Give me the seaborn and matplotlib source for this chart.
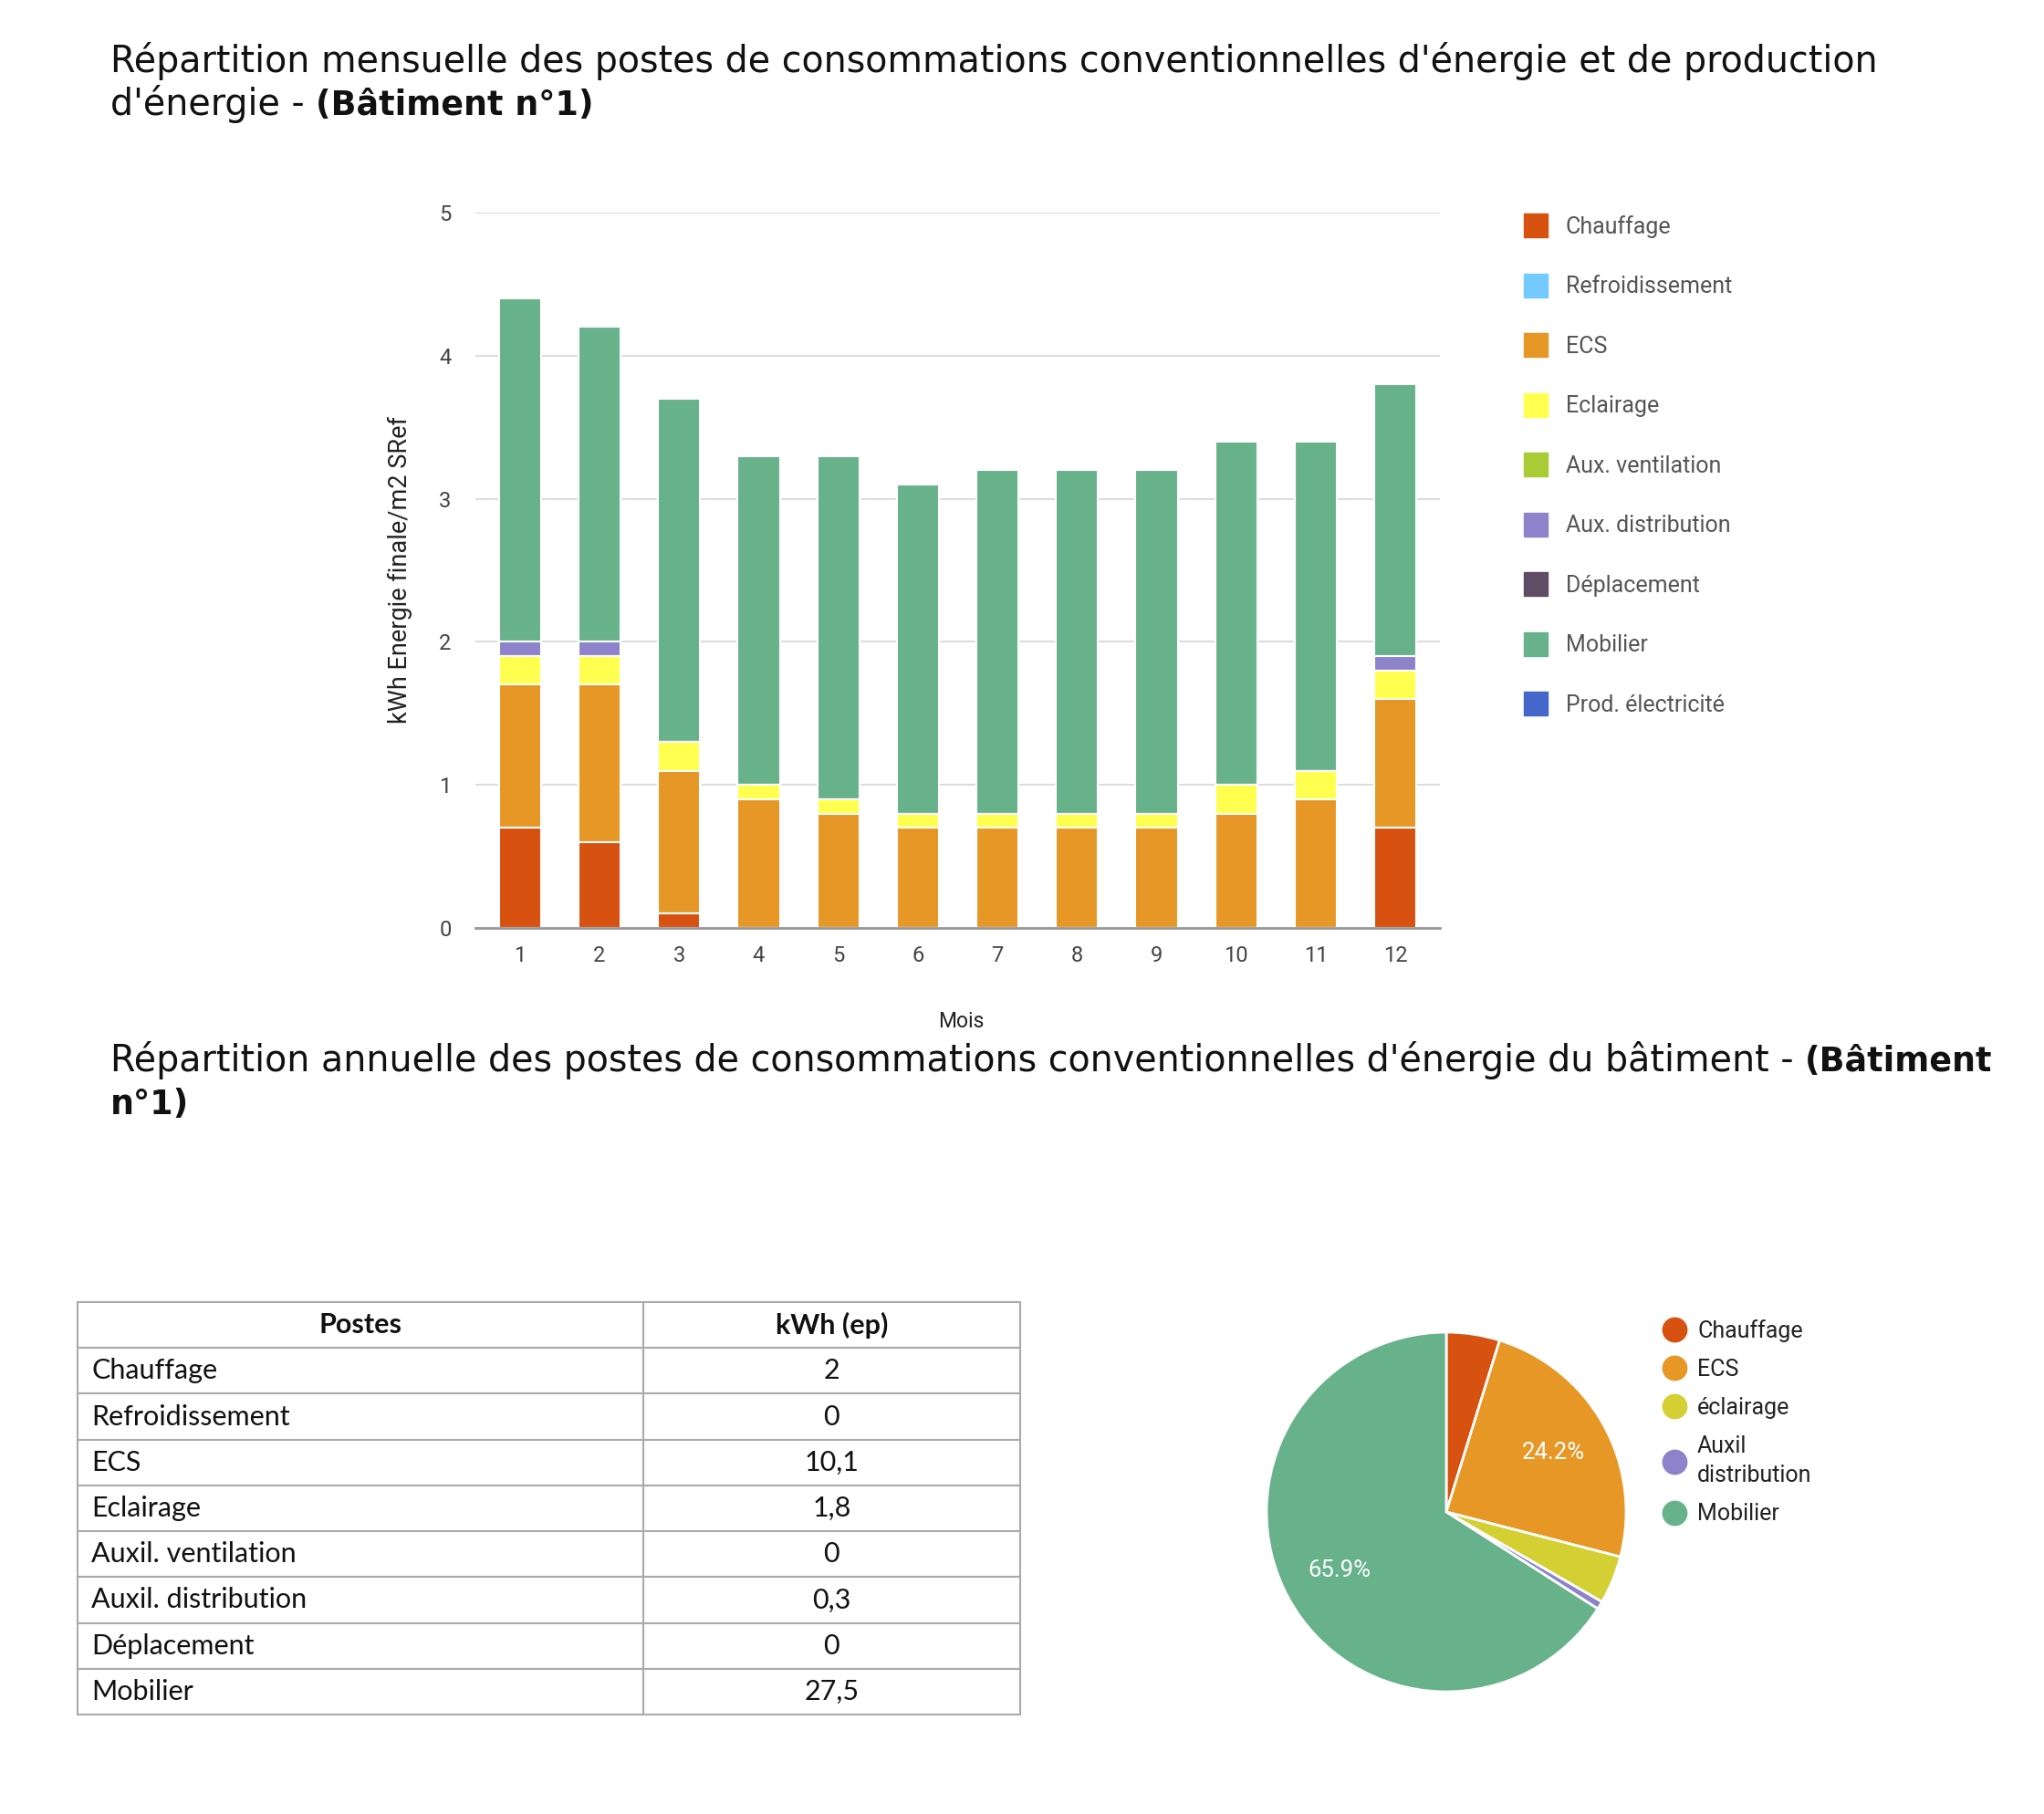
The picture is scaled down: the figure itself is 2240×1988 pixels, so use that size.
import numpy as np
import pandas as pd
import seaborn as sns
import matplotlib.pyplot as plt
from matplotlib.lines import Line2D

# -----------------------------
# Data
# -----------------------------
months = ['1', '2', '3', '4', '5', '6', '7', '8', '9', '10', '11', '12']
series_names = ['Chauffage', 'Refroidissement', 'ECS', 'Eclairage', 'Aux. ventilation',
                'Aux. distribution', 'Déplacement', 'Mobilier', 'Prod. électricité']
series_colors = ['#D75110', '#74CAFE', '#E69726', '#FFFF4F', '#A9CB35',
                 '#8E83CB', '#604D65', '#67B28B', '#4667CA']

chauffage = [0.7, 0.6, 0.1, 0, 0, 0, 0, 0, 0, 0, 0, 0.7]
refroidissement = [0] * 12
ecs = [1.0, 1.1, 1.0, 0.9, 0.8, 0.7, 0.7, 0.7, 0.7, 0.8, 0.9, 0.9]
eclairage = [0.2, 0.2, 0.2, 0.1, 0.1, 0.1, 0.1, 0.1, 0.1, 0.2, 0.2, 0.2]
aux_ventilation = [0] * 12
aux_distribution = [0.1, 0.1, 0, 0, 0, 0, 0, 0, 0, 0, 0, 0.1]
deplacement = [0] * 12
mobilier = [2.4, 2.2, 2.4, 2.3, 2.4, 2.3, 2.4, 2.4, 2.4, 2.4, 2.3, 1.9]
prod_elec = [0] * 12

table_postes = ['Chauffage', 'Refroidissement', 'ECS', 'Eclairage', 'Auxil. ventilation',
                'Auxil. distribution', 'Déplacement', 'Mobilier']
table_kwh = [2, 0, 10.1, 1.8, 0, 0.3, 0, 27.5]

pie_labels = ['Chauffage', 'ECS', 'éclairage', 'Auxil\ndistribution', 'Mobilier']
pie_values = [2, 10.1, 1.8, 0.3, 27.5]
pie_colors = ['#D75110', '#E69726', '#D4CF33', '#8E83CB', '#67B28B']

df = pd.DataFrame({
    'Mois': months,
    'Chauffage': chauffage,
    'Refroidissement': refroidissement,
    'ECS': ecs,
    'Eclairage': eclairage,
    'Aux. ventilation': aux_ventilation,
    'Aux. distribution': aux_distribution,
    'Déplacement': deplacement,
    'Mobilier': mobilier,
    'Prod. électricité': prod_elec,
})

sns.set_theme(style='white')
plt.rcParams['font.family'] = ['Roboto', 'DejaVu Sans']

W, H = 2240, 1988
fig = plt.figure(figsize=(W / 100, H / 100), dpi=100)
fig.patch.set_facecolor('white')


def fx(px):
    return px / W


def fy(py):
    return 1 - py / H


# -----------------------------
# Titles (regular + bold parts)
# -----------------------------
renderer = fig.canvas.get_renderer()
title_font = ['DejaVu Sans']
title1 = 'Répartition mensuelle des postes de consommations conventionnelles d\'énergie et de production'

# fit title size to the width of the first line (~1940 px)
probe = fig.text(0, 0, title1, fontsize=26, family=title_font)
tsize = 26 * 1940 / probe.get_window_extent(renderer).width
probe.remove()


def mixed_line(x_px, y_px, parts, size):
    x = fx(x_px)
    for txt, weight in parts:
        s = size * 0.92 if weight == 'bold' else size
        t = fig.text(x, fy(y_px), txt, fontsize=s, fontweight=weight,
                     family=title_font, color='#111111', va='baseline')
        bb = t.get_window_extent(renderer)
        x = bb.x1 / fig.bbox.width


mixed_line(121, 79, [(title1, 'normal')], tsize)
mixed_line(121, 126, [('d\'énergie - ', 'normal'), ('(Bâtiment n°1)', 'bold')], tsize)
mixed_line(121, 1174, [('Répartition annuelle des postes de consommations conventionnelles d\'énergie du bâtiment - ', 'normal'),
                       ('(Bâtiment', 'bold')], tsize)
mixed_line(121, 1221, [('n°1)', 'bold')], tsize)

# -----------------------------
# Stacked bar chart (cumulative bars drawn top-down)
# -----------------------------
ax = fig.add_axes([fx(521), fy(1017), fx(1578 - 521), (1017 - 233) / H])
cum = df[series_names].cumsum(axis=1)
for name, col in zip(reversed(series_names), reversed(series_colors)):
    sns.barplot(x=df['Mois'], y=cum[name], color=col, saturation=1, width=0.53,
                edgecolor='white', linewidth=1.5, ax=ax, order=months)

ax.set_ylim(0, 5)
ax.set_xlim(-0.56, 11.56)
ax.set_yticks(range(6))
ax.yaxis.grid(True, color='#dddddd', linewidth=1.5)
ax.set_axisbelow(True)
for s in ['left', 'top', 'right']:
    ax.spines[s].set_visible(False)
ax.spines['bottom'].set_color('#999999')
ax.spines['bottom'].set_linewidth(2)
ax.tick_params(axis='both', length=0, labelsize=17, labelcolor='#444444')
ax.tick_params(axis='y', pad=19)
ax.tick_params(axis='x', pad=14)
ax.set_xlabel('')
ax.set_ylabel('kWh Energie finale/m2 SRef', fontsize=19.5, color='#222222', labelpad=21)
fig.text(fx(1053), fy(1119), 'Mois', fontsize=16.5, color='#222222', ha='center', va='center')

handles = [Line2D([0], [0], marker='s', linestyle='', markersize=19,
                  markerfacecolor=c, markeredgecolor=c, label=n)
           for n, c in zip(series_names, series_colors)]
leg = fig.legend(handles=handles, loc='upper left', bbox_to_anchor=(fx(1648), fy(226)),
                 frameon=False, fontsize=18, labelspacing=1.66, handletextpad=0.3,
                 borderaxespad=0)
for t in leg.get_texts():
    t.set_color('#555555')

# -----------------------------
# Table
# -----------------------------
tax = fig.add_axes([fx(85), fy(1879), fx(1118 - 85), (1879 - 1427) / H])
tax.axis('off')
cell_text = [[p, str(v).replace('.', ',')] for p, v in zip(table_postes, table_kwh)]
tbl = tax.table(cellText=cell_text, colLabels=['Postes', 'kWh (ep)'],
                colWidths=[0.6, 0.4], bbox=[0, 0, 1, 1])
tbl.auto_set_font_size(False)
for (r, c), cell in tbl.get_celld().items():
    cell.set_edgecolor('#aaaaaa')
    cell.set_linewidth(1.5)
    txt = cell.get_text()
    txt.set_fontsize(22)
    txt.set_family(['Lato', 'DejaVu Sans'])
    txt.set_color('#111111')
    if r == 0:
        txt.set_fontweight('bold')
        txt.set_ha('center')
    elif c == 0:
        txt.set_ha('left')
        cell.PAD = 0.025
    else:
        txt.set_ha('center')

# -----------------------------
# Pie chart
# -----------------------------
R = 197
cx, cy = 1585, 1657
pax = fig.add_axes([fx(cx - R), fy(cy + R), fx(2 * R), 2 * R / H])
wedges, texts, autotexts = pax.pie(
    pie_values, colors=pie_colors, startangle=90, counterclock=False,
    autopct=lambda p: f'{p:.1f}%' if p > 5 else '', pctdistance=0.68,
    wedgeprops=dict(edgecolor='white', linewidth=2),
    textprops=dict(color='white', fontsize=18.5))
pax.set_xlim(-1, 1)
pax.set_ylim(-1, 1)
pax.set_aspect('equal')

pie_handles = [Line2D([0], [0], marker='o', linestyle='', markersize=19,
                      markerfacecolor=c, markeredgecolor=c, label=n)
               for n, c in zip(pie_labels, pie_colors)]
pleg = fig.legend(handles=pie_handles, loc='upper left', bbox_to_anchor=(fx(1800), fy(1436)),
                  frameon=False, fontsize=18, labelspacing=0.72, handletextpad=0.0,
                  borderaxespad=0)
for t in pleg.get_texts():
    t.set_color('#222222')
    t.set_linespacing(1.45)

fig.savefig('out.png', dpi=100, facecolor='white')
